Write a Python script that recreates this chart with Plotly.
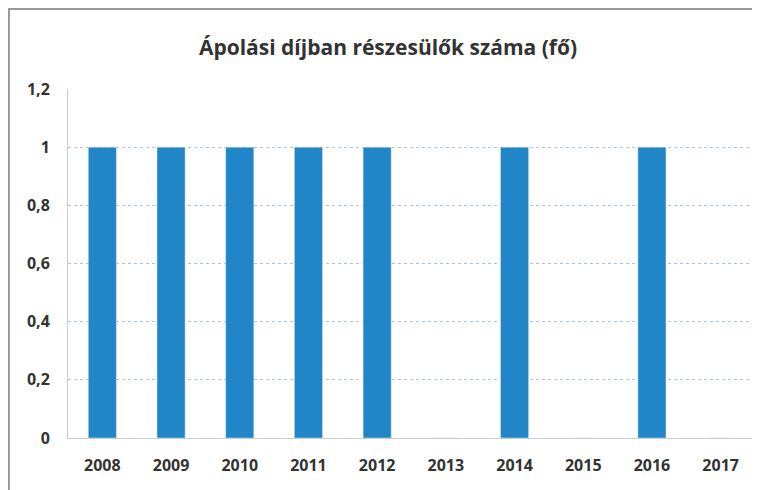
import plotly.graph_objects as go

years = ['2008', '2009', '2010', '2011', '2012', '2013', '2014', '2015', '2016', '2017']
values = [1, 1, 1, 1, 1, 0, 1, 0, 1, 0]
y_ticks = [0, 0.2, 0.4, 0.6, 0.8, 1, 1.2]

fig = go.Figure(data=go.Bar(x=years, y=values, marker_color='#2186c8', width=0.41))

fig.update_layout(
    width=760, height=490,
    margin=dict(l=60, r=13, t=81, b=60),
    separators=', ',
    paper_bgcolor='white',
    plot_bgcolor='white',
    title=dict(
        text='Ápolási díjban részesülők száma (fő)',
        x=0.5, xanchor='center', y=0.92, yanchor='middle',
        font=dict(family='Open Sans', size=21, color='#333333', weight='bold'),
    ),
    showlegend=False,
    shapes=[dict(type='rect', xref='paper', yref='paper',
                 x0=-0.0859, x1=1.003, y0=-0.3, y1=1.229,
                 line=dict(color='#7a7a7a', width=1.5))],
)
fig.update_xaxes(
    showgrid=False, showline=True, linecolor='#c8ccd2', linewidth=1,
    tickfont=dict(family='Open Sans', size=16, color='#333333', weight='bold'),
    ticks='', ticklabelstandoff=13,
)
fig.update_yaxes(
    range=[0, 1.2], tickvals=y_ticks,
    showgrid=True, gridcolor='#a9c4dc', griddash='dot', gridwidth=1,
    showline=True, linecolor='#c8ccd2', zeroline=False,
    tickfont=dict(family='Open Sans', size=16, color='#333333', weight='bold'),
    ticklabelstandoff=14,
)

fig.write_html('out.html')
